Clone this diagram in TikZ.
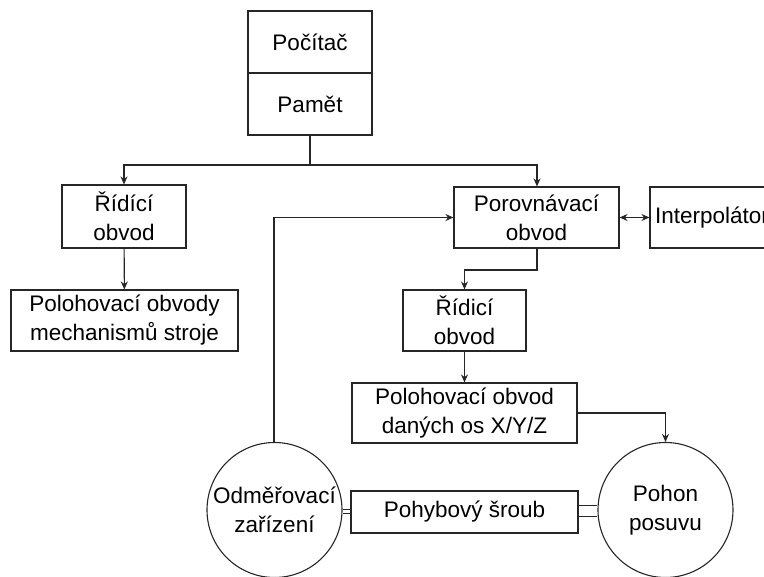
\documentclass[tikz,border=0pt]{standalone}
\usepackage{fontspec}
\setmainfont{Liberation Sans}
\usetikzlibrary{arrows.meta}
\begin{document}
\begin{tikzpicture}[x=1pt,y=-1pt,
  box/.style={draw=black!85,line width=1.1pt,rectangle,inner sep=0pt,align=center,font=\fontsize{22.5}{29}\selectfont},
  circ/.style={draw=black!85,line width=1.1pt,circle,inner sep=0pt,minimum size=135pt,align=center,font=\fontsize{22.5}{29}\selectfont},
  conn/.style={draw=black!85,line width=1.1pt},
  arr/.style={conn,-{Stealth[length=8pt,width=7pt]}},
  darr/.style={conn,{Stealth[length=8pt,width=7pt]}-{Stealth[length=8pt,width=7pt]}},
  link/.style={draw=black!85,line width=1pt}]
\useasboundingbox (0,0) rectangle (764,577);
\clip (0,0) rectangle (764,577);
% nodes
\node[box,minimum width=124pt,minimum height=62pt] (pc) at (310,42) {Počítač};
\node[box,minimum width=124pt,minimum height=62pt] (pm) at (310,104) {Pamět};
\node[box,minimum width=124pt,minimum height=63pt] (r1) at (124,216.5) {Řídící\\obvod};
\node[box,minimum width=227pt,minimum height=61pt] (p1) at (124.5,320.5) {Polohovací obvody\\mechanismů stroje};
\node[box,minimum width=165pt,minimum height=61pt] (por) at (536.5,217.5) {Porovnávací\\obvod};
\node[box,minimum width=124pt,minimum height=61pt] (int) at (712,217.5) {Interpolátor};
\node[box,minimum width=123pt,minimum height=61pt] (r2) at (464.5,320.5) {Řídicí\\obvod};
\node[box,minimum width=225pt,minimum height=60pt] (p2) at (464.5,413) {Polohovací obvod\\daných os X/Y/Z};
\node[circ] (od) at (274.5,510) {Odměřovací\\zařízení};
\node[box,minimum width=227pt,minimum height=42pt] (sr) at (464.5,512) {Pohybový šroub};
\node[circ] (ph) at (665.5,510) {Pohon\\posuvu};
% helper coordinates
\coordinate (j) at (310,165);
\coordinate (k) at (537,270);
% connectors
\draw[conn] (pm.south) -- (j);
\draw[arr] (j) -| (r1.north);
\draw[arr] (j) -| (por.north -| k);
\draw[arr] (r1) -- (p1);
\draw[arr] (od.north -| 274,0) |- (por.west);
\draw[darr] (por.east) -- (int.west);
\draw[arr] (por.south -| k) -- (k) -| (r2.north);
\draw[arr] (r2) -- (p2);
\draw[arr] (p2.east) -| (ph.north);
% double links
\draw[link] (od.east |- 0,509.5) -- (sr.west |- 0,509.5);
\draw[link] (od.east |- 0,513.5) -- (sr.west |- 0,513.5);
\draw[link] (sr.east |- 0,506) -- (ph.west |- 0,506);
\draw[link] (sr.east |- 0,517) -- (ph.west |- 0,517);
\end{tikzpicture}
\end{document}
